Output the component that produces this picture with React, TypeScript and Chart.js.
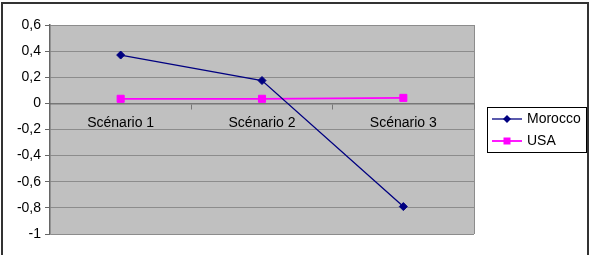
import React, { useEffect, useRef } from "react";
import { Chart, registerables } from "chart.js";

Chart.register(...registerables);

const categories = ["Scénario 1", "Scénario 2", "Scénario 3"];
const moroccoValues = [0.37, 0.175, -0.79];
const usaValues = [0.035, 0.035, 0.042];
const seriesNames = ["Morocco", "USA"];
const yMin = -1;
const yMax = 0.6;
const yStep = 0.2;

const FONT = "'Liberation Sans', Arial, sans-serif";

const framePlugin = {
  id: "frame",
  beforeDraw(chart: any) {
    const { ctx, chartArea } = chart;
    ctx.save();
    ctx.fillStyle = "#ffffff";
    ctx.fillRect(0, 0, chart.width, chart.height);
    ctx.fillStyle = "#c0c0c0";
    ctx.fillRect(chartArea.left, chartArea.top, chartArea.right - chartArea.left, chartArea.bottom - chartArea.top);
    ctx.strokeStyle = "#8c8c8c";
    ctx.lineWidth = 1;
    ctx.beginPath();
    ctx.moveTo(chartArea.right + 0.5, chartArea.top);
    ctx.lineTo(chartArea.right + 0.5, chartArea.bottom);
    ctx.stroke();
    ctx.restore();
  },
  afterDraw(chart: any) {
    const { ctx } = chart;
    ctx.save();
    // outer border
    ctx.strokeStyle = "#333333";
    ctx.lineWidth = 2;
    ctx.strokeRect(2, 3, 586, 300);
    // legend
    const bx = 487, by = 107, bw = 99, bh = 45;
    ctx.fillStyle = "#ffffff";
    ctx.fillRect(bx, by, bw, bh);
    ctx.strokeStyle = "#000000";
    ctx.lineWidth = 1;
    ctx.strokeRect(bx + 0.5, by + 0.5, bw, bh);
    const rows = [119, 141];
    chart.data.datasets.forEach((ds: any, i: number) => {
      const y = rows[i];
      ctx.strokeStyle = ds.borderColor;
      ctx.lineWidth = ds.borderWidth;
      ctx.beginPath();
      ctx.moveTo(492, y);
      ctx.lineTo(522, y);
      ctx.stroke();
      ctx.fillStyle = ds.pointBackgroundColor;
      ctx.beginPath();
      if (ds.pointStyle === "rectRot") {
        const r = 4;
        ctx.moveTo(507 - r, y);
        ctx.lineTo(507, y - r);
        ctx.lineTo(507 + r, y);
        ctx.lineTo(507, y + r);
        ctx.closePath();
      } else {
        ctx.rect(507 - 3.5, y - 3.5, 7, 7);
      }
      ctx.fill();
      ctx.fillStyle = "#000000";
      ctx.font = "14px " + FONT;
      ctx.textBaseline = "middle";
      ctx.textAlign = "left";
      ctx.fillText(ds.label, 527, y);
    });
    ctx.restore();
  },
};

export default function App() {
  const ref = useRef<HTMLCanvasElement | null>(null);
  useEffect(() => {
    if (!ref.current) return;
    const chart = new Chart(ref.current, {
      type: "line",
      data: {
        labels: categories,
        datasets: [
          {
            label: seriesNames[0],
            data: moroccoValues,
            borderColor: "#000080",
            backgroundColor: "#000080",
            pointBackgroundColor: "#000080",
            pointBorderColor: "#000080",
            borderWidth: 1.3,
            pointStyle: "rectRot",
            pointRadius: 4,
            pointBorderWidth: 1,
            tension: 0,
          },
          {
            label: seriesNames[1],
            data: usaValues,
            borderColor: "#ff00ff",
            backgroundColor: "#ff00ff",
            pointBackgroundColor: "#ff00ff",
            pointBorderColor: "#ff00ff",
            borderWidth: 1.8,
            pointStyle: "rect",
            pointRadius: 5,
            pointBorderWidth: 1,
            tension: 0,
          },
        ],
      },
      options: {
        responsive: false,
        animation: false,
        devicePixelRatio: 1,
        layout: { padding: { top: 25, right: 118, bottom: 21, left: 0 } },
        plugins: {
          legend: { display: false },
          tooltip: { enabled: false },
          title: { display: false },
        },
        scales: {
          x: {
            type: "category",
            position: { y: 0 } as any,
            offset: true,
            grid: {
              display: true,
              drawOnChartArea: false,
              drawTicks: true,
              tickLength: 5,
              color: "#777777",
              offset: true,
            },
            border: { display: true, color: "#777777", width: 1.5 },
            ticks: {
              color: "#000000",
              font: { family: FONT, size: 14 },
              padding: 6,
              maxRotation: 0,
              autoSkip: false,
            },
          },
          y: {
            min: yMin,
            max: yMax,
            afterFit: (scale: any) => {
              scale.width = 50;
            },
            grid: {
              color: "#8c8c8c",
              lineWidth: 1,
              drawTicks: true,
              tickLength: 5,
              tickColor: "#666666",
            },
            border: { display: true, color: "#666666", width: 1.5 },
            ticks: {
              stepSize: yStep,
              color: "#000000",
              font: { family: FONT, size: 14 },
              padding: 4,
              callback: (v: any) => Number(Number(v).toFixed(1)).toString().replace(".", ","),
            },
          },
        },
      },
      plugins: [framePlugin],
    });
    return () => chart.destroy();
  }, []);
  return (
    <div style={{ position: "absolute", left: 0, top: 0, width: 592, height: 255 }}>
      <canvas ref={ref} width={592} height={255} style={{ display: "block" }} />
    </div>
  );
}
